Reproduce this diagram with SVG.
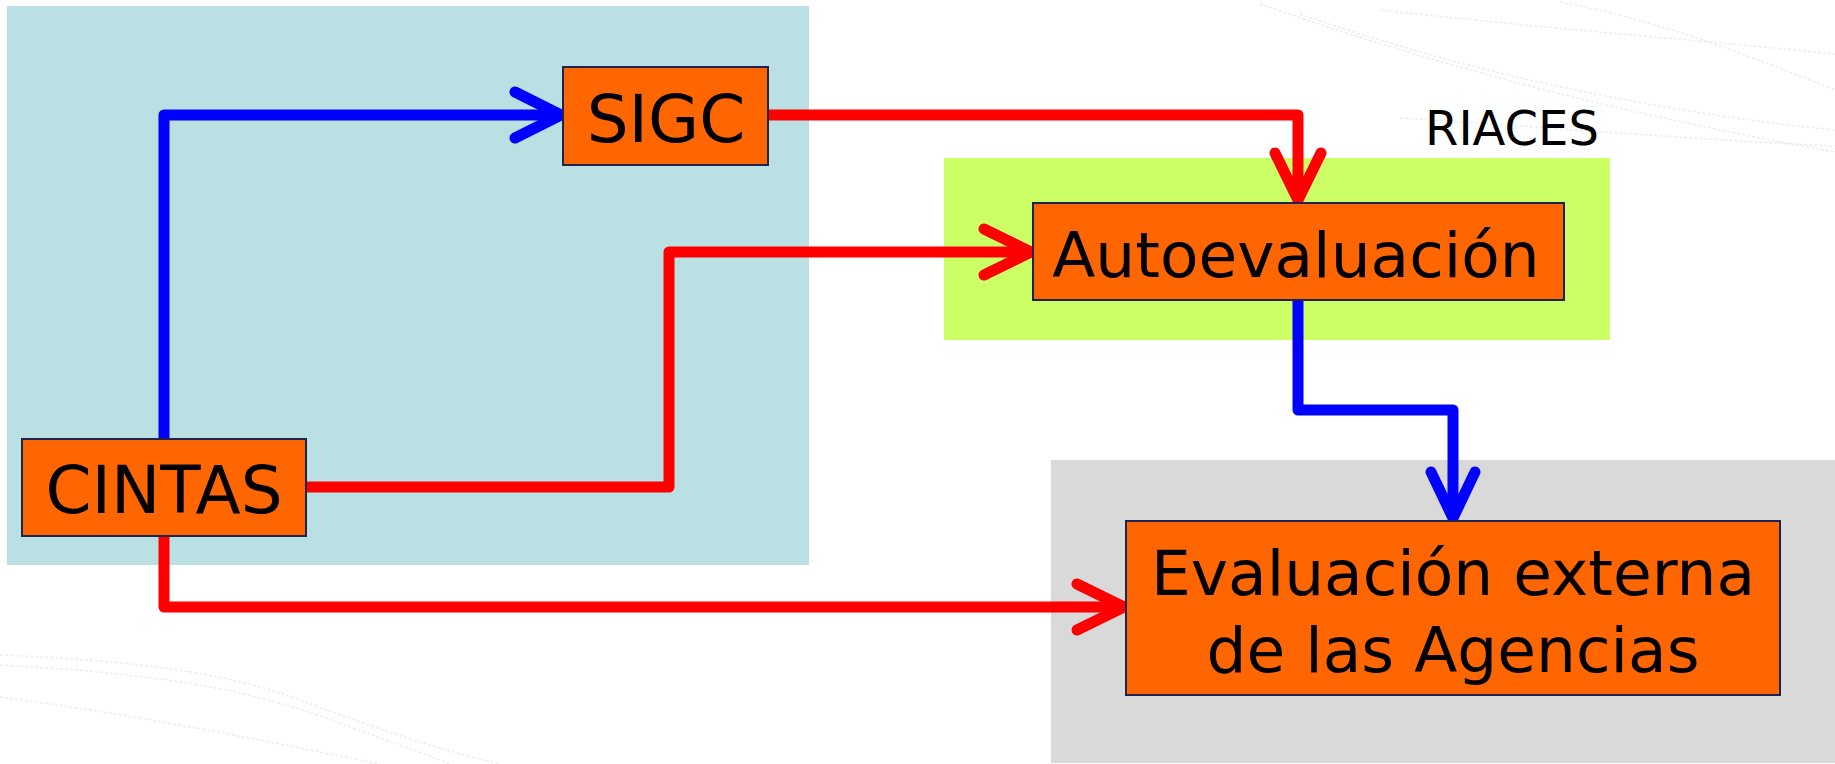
<svg xmlns="http://www.w3.org/2000/svg" width="1835" height="764" viewBox="0 0 1835 764">
  <style>
    .panel { stroke: none; }
    .box { fill: #FF6600; stroke: #1F2350; stroke-width: 2; }
    .label { font-family: "DejaVu Sans", "Verdana", sans-serif; fill: #000; text-anchor: middle; }
    .wire { fill: none; stroke-width: 11; stroke-linejoin: round; stroke-linecap: butt; }
    .head { fill: none; stroke-width: 11; stroke-linejoin: miter; stroke-miterlimit: 10; stroke-linecap: round; }
    .red { stroke: #FF0000; }
    .blue { stroke: #0000FF; }
    .swoosh { fill: none; stroke: #D8D8D8; stroke-width: 1.5; stroke-dasharray: 3 2; opacity: 0.45; }
  </style>

  <rect width="1835" height="764" fill="#FFFFFF"/>

  <!-- faint background swooshes -->
  <g id="backdrop">
    <path class="swoosh" d="M1260 4 C1420 60 1600 110 1835 152"/>
    <path class="swoosh" d="M1300 14 C1460 70 1640 110 1835 130"/>
    <path class="swoosh" d="M1380 10 C1560 30 1700 40 1835 54"/>
    <path class="swoosh" d="M1560 2 C1660 20 1760 60 1835 90"/>
    <path class="swoosh" d="M1400 118 C1560 128 1700 140 1835 146"/>
    <path class="swoosh" d="M0 655 C120 660 220 670 300 700 C380 730 440 750 500 764"/>
    <path class="swoosh" d="M0 665 C130 672 230 684 320 716 C380 738 420 752 450 764"/>
    <path class="swoosh" d="M0 697 C100 710 200 728 300 748 C330 754 360 760 380 764"/>
  </g>

  <!-- background zones -->
  <g id="zones">
    <rect class="panel" x="7" y="6" width="802" height="559" fill="#BAE0E3"/>
    <rect class="panel" x="944" y="158" width="666" height="182" fill="#CCFF66"/>
    <rect class="panel" x="1051" y="460" width="784" height="303" fill="#D9D9D9"/>
  </g>

  <text id="riaces" class="label" x="1512" y="145" font-size="48">RIACES</text>

  <!-- connectors -->
  <g id="connectors">
    <!-- CINTAS -> SIGC -->
    <path class="wire blue" d="M164 439 V115 H556"/>
    <path class="head blue" d="M515 92 L561 115 L515 138"/>
    <!-- SIGC -> Autoevaluación -->
    <path class="wire red" d="M768 115 H1298 V196"/>
    <path class="head red" d="M1275 153 L1298 200 L1321 153"/>
    <!-- CINTAS -> Autoevaluación -->
    <path class="wire red" d="M306 487 H669 V252 H1026"/>
    <path class="head red" d="M984 229 L1031 252 L984 275"/>
    <!-- CINTAS -> Evaluación externa -->
    <path class="wire red" d="M164 536 V607 H1119"/>
    <path class="head red" d="M1077 584 L1124 607 L1077 630"/>
    <!-- Autoevaluación -> Evaluación externa -->
    <path class="wire blue" d="M1298 300 V410 H1453 V514"/>
    <path class="head blue" d="M1431 472 L1453 518 L1475 472"/>
  </g>

  <!-- nodes -->
  <g id="node-sigc">
    <rect class="box" x="563" y="67" width="205" height="98"/>
    <text class="label" x="666" y="142" font-size="66">SIGC</text>
  </g>
  <g id="node-cintas">
    <rect class="box" x="22" y="439" width="284" height="97"/>
    <text class="label" x="164" y="513" font-size="66">CINTAS</text>
  </g>
  <g id="node-autoevaluacion">
    <rect class="box" x="1033" y="203" width="531" height="97"/>
    <text class="label" x="1296" y="277" font-size="63">Autoevaluación</text>
  </g>
  <g id="node-evaluacion-externa">
    <rect class="box" x="1126" y="521" width="654" height="174"/>
    <text class="label" x="1453" y="595" font-size="63">Evaluación externa</text>
    <text class="label" x="1453" y="672" font-size="63">de las Agencias</text>
  </g>
</svg>
